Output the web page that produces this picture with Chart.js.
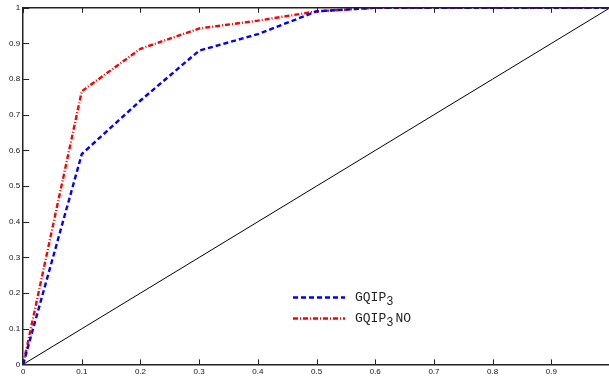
<!DOCTYPE html>
<html>
<head>
<meta charset="utf-8">
<script src="https://cdn.jsdelivr.net/npm/chart.js@4"></script>
<style>
html,body{margin:0;padding:0;background:#fff;overflow:hidden;}
#wrap{width:609px;height:377px;position:relative;overflow:hidden;}
</style>
</head>
<body>
<div id="wrap"><canvas id="c" width="613" height="377"></canvas></div>
<script>
const xValues = [0, 0.1, 0.2, 0.3, 0.4, 0.5, 0.6, 0.7, 0.8, 0.9, 1.0];
const gqip3 = [0, 0.59, 0.74, 0.88, 0.926, 0.99, 1.0, 1.0, 1.0, 1.0, 1.0];
const gqip3no = [0, 0.766, 0.885, 0.942, 0.964, 0.99, 1.0, 1.0, 1.0, 1.0, 1.0];
const diagonal = [0, 0.1, 0.2, 0.3, 0.4, 0.5, 0.6, 0.7, 0.8, 0.9, 1.0];
const xTickLabels = ['0','0.1','0.2','0.3','0.4','0.5','0.6','0.7','0.8','0.9',''];
const yTickLabels = ['0','0.1','0.2','0.3','0.4','0.5','0.6','0.7','0.8','0.9','1'];
const seriesNames = ['GQIP', 'GQIP'];
const seriesSub = ['3', '3'];
const seriesSuffix = ['', 'NO'];

const toPts = arr => arr.map((v, i) => ({x: xValues[i], y: v}));

const inwardTicks = {
  id: 'inwardTicks',
  afterDraw(chart) {
    const {ctx, chartArea, scales} = chart;
    ctx.save();
    ctx.strokeStyle = '#222';
    ctx.lineWidth = 1.5;
    ctx.beginPath();
    ctx.moveTo(chartArea.left, chartArea.top);
    ctx.lineTo(chartArea.right, chartArea.top);
    ctx.stroke();
    ctx.lineWidth = 1;
    const L = 5;
    scales.x.ticks.forEach(t => {
      const px = Math.round(scales.x.getPixelForValue(t.value)) + 0.5;
      ctx.beginPath();
      ctx.moveTo(px, chartArea.bottom);
      ctx.lineTo(px, chartArea.bottom - L);
      ctx.moveTo(px, chartArea.top);
      ctx.lineTo(px, chartArea.top + L);
      ctx.stroke();
    });
    scales.y.ticks.forEach(t => {
      const py = Math.round(scales.y.getPixelForValue(t.value)) + 0.5;
      ctx.beginPath();
      ctx.moveTo(chartArea.left, py);
      ctx.lineTo(chartArea.left + L + 1, py);
      ctx.stroke();
    });
    ctx.restore();
  }
};

const legendPlugin = {
  id: 'insideLegend',
  afterDraw(chart) {
    const {ctx} = chart;
    const items = [chart.data.datasets[0], chart.data.datasets[1]];
    const x0 = 293, x1 = 345, tx = 355;
    const ys = [297.5, 318.5];
    ctx.save();
    items.forEach((ds, i) => {
      ctx.strokeStyle = ds.borderColor;
      ctx.lineWidth = ds.borderWidth;
      ctx.setLineDash(ds.borderDash || []);
      ctx.beginPath();
      ctx.moveTo(x0, ys[i]);
      ctx.lineTo(x1, ys[i]);
      ctx.stroke();
      ctx.setLineDash([]);
      ctx.fillStyle = '#222';
      ctx.textBaseline = 'middle';
      ctx.textAlign = 'left';
      ctx.font = '13px "Liberation Mono", "DejaVu Sans Mono", monospace';
      const main = seriesNames[i];
      ctx.fillText(main, tx, ys[i]);
      let w = ctx.measureText(main).width;
      ctx.font = '12px "Liberation Mono", "DejaVu Sans Mono", monospace';
      ctx.fillText(seriesSub[i], tx + w, ys[i] + 4);
      w += ctx.measureText(seriesSub[i]).width + 2;
      ctx.font = '13px "Liberation Mono", "DejaVu Sans Mono", monospace';
      ctx.fillText(seriesSuffix[i], tx + w, ys[i]);
    });
    ctx.restore();
  }
};

new Chart(document.getElementById('c'), {
  type: 'line',
  data: {
    datasets: [
      {
        label: 'GQIP3',
        data: toPts(gqip3),
        borderColor: '#0000ff',
        borderWidth: 2.4,
        borderDash: [5, 3],
        pointRadius: 0,
        fill: false,
        tension: 0
      },
      {
        label: 'GQIP3NO',
        data: toPts(gqip3no),
        borderColor: '#ff0000',
        borderWidth: 2.4,
        borderDash: [5, 2, 1, 2],
        pointRadius: 0,
        fill: false,
        tension: 0
      },
      {
        label: 'diag',
        data: toPts(diagonal),
        borderColor: '#000000',
        borderWidth: 1,
        pointRadius: 0,
        fill: false,
        tension: 0
      }
    ]
  },
  options: {
    responsive: false,
    animation: false,
    devicePixelRatio: 1,
    layout: {padding: {top: 5, right: 0, left: 6, bottom: -3}},
    plugins: {legend: {display: false}, tooltip: {enabled: false}},
    scales: {
      x: {
        type: 'linear',
        min: 0, max: 1,
        afterBuildTicks(scale) {
          scale.ticks = xValues.map(v => ({value: v}));
        },
        ticks: {
          autoSkip: false,
          maxRotation: 0,
          padding: 3,
          color: '#111',
          font: {size: 8, family: '"Liberation Sans", Arial, sans-serif'},
          callback: (v, i) => xTickLabels[i]
        },
        grid: {display: false, drawTicks: false},
        border: {display: true, color: '#222', width: 1.5}
      },
      y: {
        type: 'linear',
        min: 0, max: 1,
        afterBuildTicks(scale) {
          scale.ticks = yTickLabels.map((s, i) => ({value: i / 10}));
        },
        ticks: {
          autoSkip: false,
          padding: 3,
          color: '#111',
          font: {size: 8, family: '"Liberation Sans", Arial, sans-serif'},
          callback: (v, i) => yTickLabels[i]
        },
        grid: {display: false, drawTicks: false},
        border: {display: true, color: '#222', width: 1.5}
      }
    }
  },
  plugins: [inwardTicks, legendPlugin]
});
</script>
</body>
</html>
